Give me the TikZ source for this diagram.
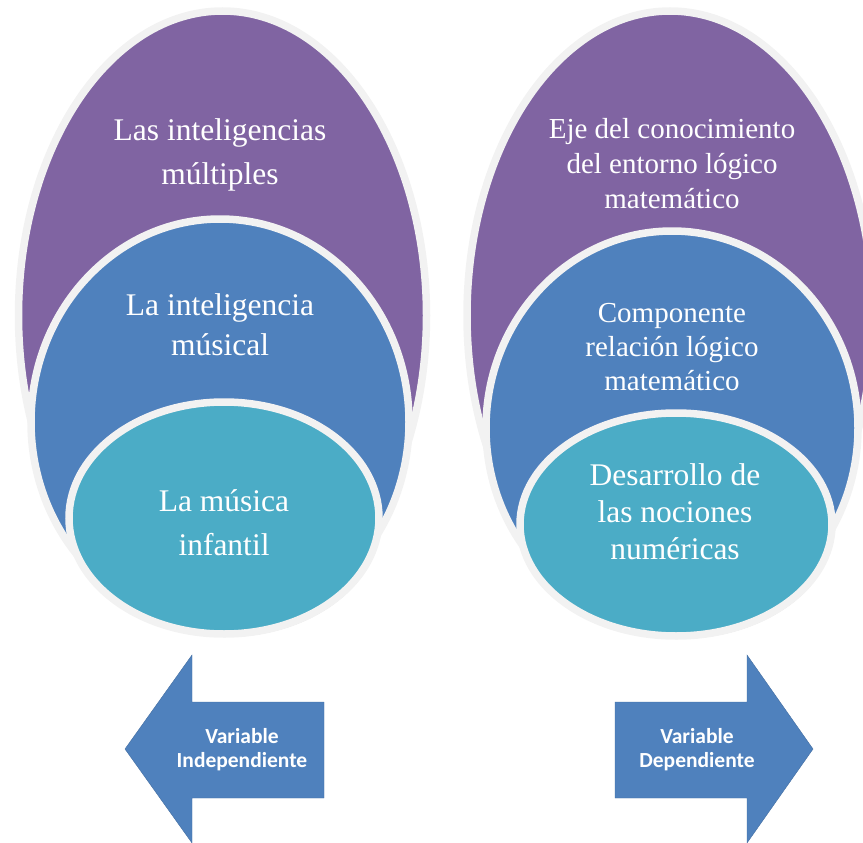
\documentclass[tikz,border=0pt]{standalone}
\usepackage{fontspec}
\setmainfont{Liberation Serif}
\newfontfamily\arrowfont{Carlito}
\usetikzlibrary{shapes.geometric,shadows}
\definecolor{cpurple}{HTML}{8064A2}
\definecolor{cblue}{HTML}{4F81BD}
\definecolor{ccyan}{HTML}{4BACC6}
\definecolor{cring}{HTML}{F2F2F2}
\tikzset{
  oval/.style={ellipse, draw=cring, line width=7.5pt, inner sep=0pt,
    drop shadow={shadow xshift=1.5pt, shadow yshift=-3pt, opacity=0.35, fill=black!70}},
  ovtext/.style={text=white, align=center},
  bigarrow/.style={fill=cblue, draw=cblue!85!black, line width=0.4pt},
  arrtext/.style={text=white, align=center, font=\arrowfont\bfseries\fontsize{21.5}{24}\selectfont}
}
\begin{document}
\begin{tikzpicture}[x=1pt,y=-1pt]
\useasboundingbox (0,0) rectangle (863,843);
\clip (0,0) rectangle (863,843);
% left group
\node[oval, fill=cpurple, minimum width=408pt, minimum height=609pt] (lp) at (222.5,315.5) {};
\node[oval, fill=cblue, minimum width=378pt, minimum height=406pt] (lb) at (220,422) {};
\node[oval, fill=ccyan, minimum width=310pt, minimum height=232pt] (lc) at (224,518) {};
\node[ovtext, font=\fontsize{31.5}{44}\selectfont] (lpt) at (220,155) {Las inteligencias\\múltiples};
\node[ovtext, font=\fontsize{31.5}{40}\selectfont] (lbt) at (220,325) {La inteligencia\\músical};
\node[ovtext, font=\fontsize{31.5}{44}\selectfont] (lct) at (224,523) {La música\\infantil};
% right group
\node[oval, fill=cpurple, minimum width=406pt, minimum height=609pt] (rp) at (670,315.5) {};
\node[oval, fill=cblue, minimum width=372pt, minimum height=394pt] (rb) at (672,428) {};
\node[oval, fill=ccyan, minimum width=312pt, minimum height=223pt] (rc) at (676,524.5) {};
\node[ovtext, font=\fontsize{29}{35}\selectfont] (rpt) at (672,164) {Eje del conocimiento\\del entorno lógico\\matemático};
\node[ovtext, font=\fontsize{29}{34}\selectfont] (rbt) at (672,347) {Componente\\relación lógico\\matemático};
\node[ovtext, font=\fontsize{31.5}{37}\selectfont] (rct) at (675,512) {Desarrollo de\\las nociones\\numéricas};
% arrows
\coordinate (la1) at (125,749);
\draw[bigarrow] (la1) -- (192,655) -- (192,702) -- (324,702) -- (324,798) -- (192,798) -- (192,843) -- cycle;
\node[arrtext] (lat) at (242,750) {Variable\\Independiente};
\coordinate (ra1) at (813,749);
\draw[bigarrow] (ra1) -- (747,655) -- (747,702) -- (615,702) -- (615,798) -- (747,798) -- (747,843) -- cycle;
\node[arrtext] (rat) at (697,750) {Variable\\Dependiente};
\end{tikzpicture}
\end{document}
